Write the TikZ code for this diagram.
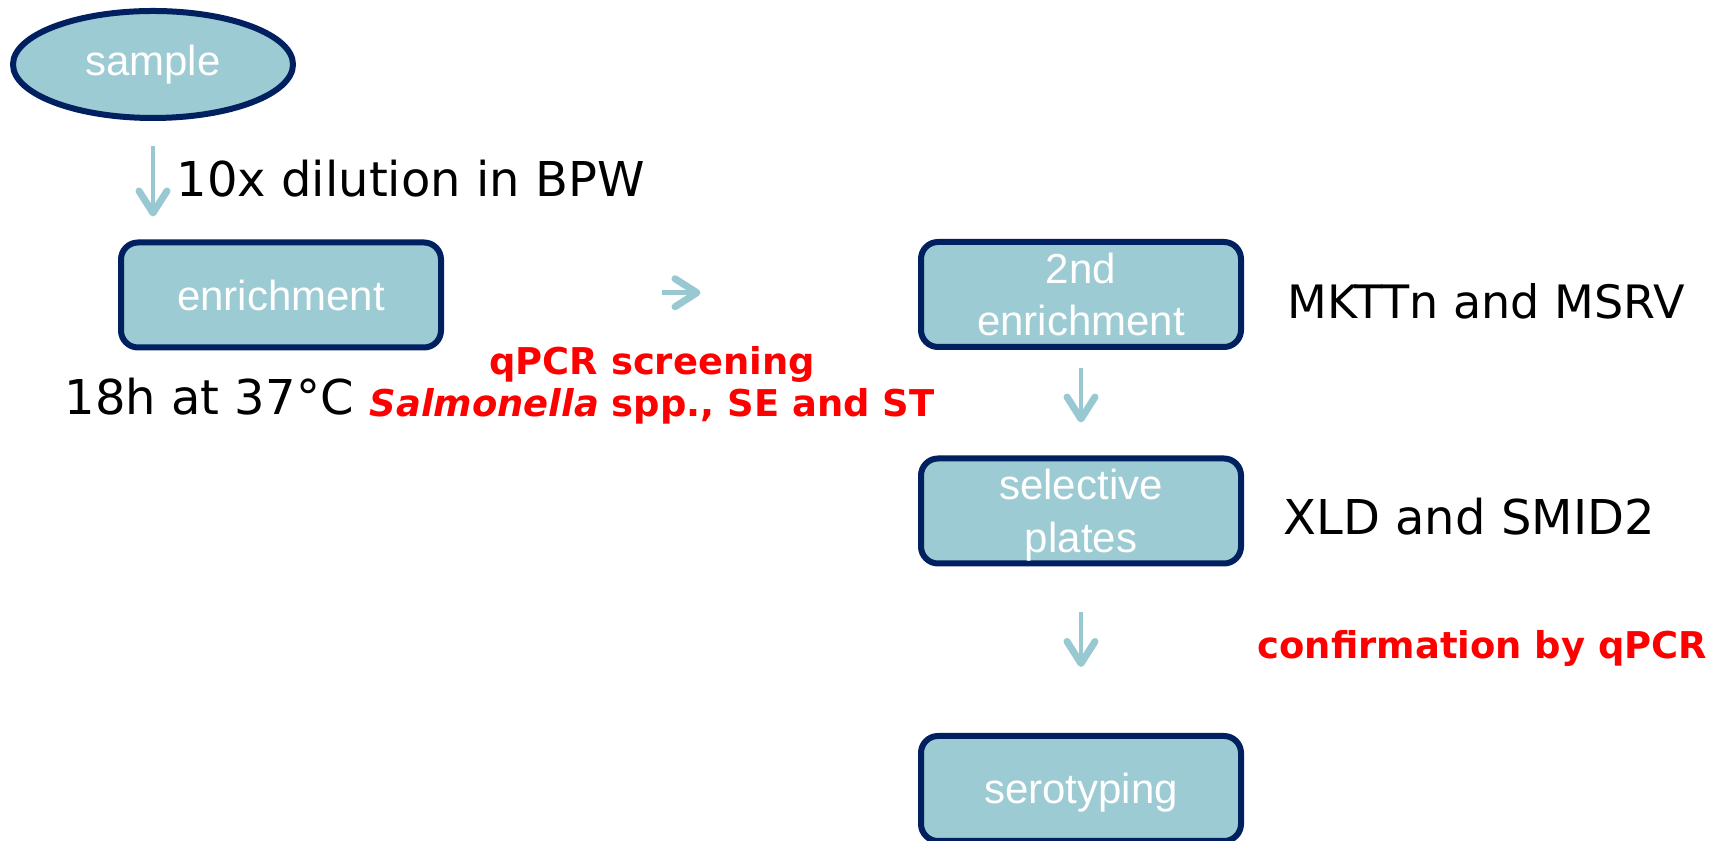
\documentclass[tikz,border=0pt]{standalone}
\usepackage{fontspec}
\setmainfont{DejaVu Sans}
\newfontfamily\boxfont{Liberation Sans}
\usetikzlibrary{arrows.meta,shapes.geometric,calc}

\definecolor{boxfill}{HTML}{9CCBD3}
\definecolor{boxline}{HTML}{002060}
\definecolor{arrowcol}{HTML}{98C9D3}

\tikzset{
  box/.style={draw=boxline, fill=boxfill, line width=0.06cm, rounded corners=0.17cm,
    minimum width=3.2cm, minimum height=1.05cm, inner sep=0pt,
    text=white, align=center, font=\boxfont\fontsize{11.95}{15}\selectfont},
  oval/.style={ellipse, draw=boxline, fill=boxfill, line width=0.06cm,
    minimum width=2.8cm, minimum height=1.07cm, inner sep=0pt,
    text=white, font=\boxfont\fontsize{11.95}{15}\selectfont},
  note/.style={inner sep=0pt, font=\fontsize{13.66}{16}\selectfont},
  redtext/.style={inner sep=0pt, text=red, font=\bfseries\fontsize{10.5}{13}\selectfont},
  flow/.style={draw=arrowcol, line width=0.045cm,
    -{Straight Barb[length=0.22cm, width=0.28cm, line width=0.07cm, round]}}
}

\begin{document}
\begin{tikzpicture}

\useasboundingbox (0,0) rectangle (17.29,-8.41);

% Steps
\node[oval] (sample) at (1.53,-0.645) {sample};
\node[box] (enrich) at (2.81,-2.95) {enrichment};
\node[box] (enrich2) at (10.81,-2.945) {2nd\\enrichment};
\node[box, text depth=0pt] (select) at (10.81,-5.11) {selective\\plates};
\node[box, text depth=0pt] (serotype) at (10.81,-7.885) {serotyping};

% Conditions and media
\node[note, anchor=base west] (dilution) at (1.76,-1.97) {10x dilution in BPW};
\node[note, anchor=base west] (incub) at (0.64,-4.15) {18h at 37°C};
\node[note, anchor=base west, font=\fontsize{13.1}{16}\selectfont] (broths) at (12.87,-3.19) {MKTTn and MSRV};
\node[note, anchor=base west] (plates) at (12.83,-5.35) {XLD and SMID2};

% qPCR steps
\node[redtext, anchor=base] (screen) at (6.52,-3.75) {qPCR screening};
\node[redtext, anchor=base] (targets) at (6.52,-4.17) {\textit{Salmonella} spp., SE and ST};
\node[redtext, anchor=base west] (confirm) at (12.57,-6.59) {confirmation by qPCR};

% Arrows
\draw[flow] ([yshift=-0.255cm]sample.south) -- ++(0,-0.70);
\coordinate (gap) at ($(enrich.east)!0.5!(enrich2.west)$);
\draw[flow] ([xshift=-0.195cm,yshift=0.02cm]gap) -- ([xshift=0.195cm,yshift=0.02cm]gap);
\draw[flow] ([yshift=-0.18cm]enrich2.south) -- ([yshift=0.33cm]select.north);
\draw[flow] ([yshift=-0.46cm]select.south) -- ([yshift=0.66cm]serotype.north);

\end{tikzpicture}
\end{document}
